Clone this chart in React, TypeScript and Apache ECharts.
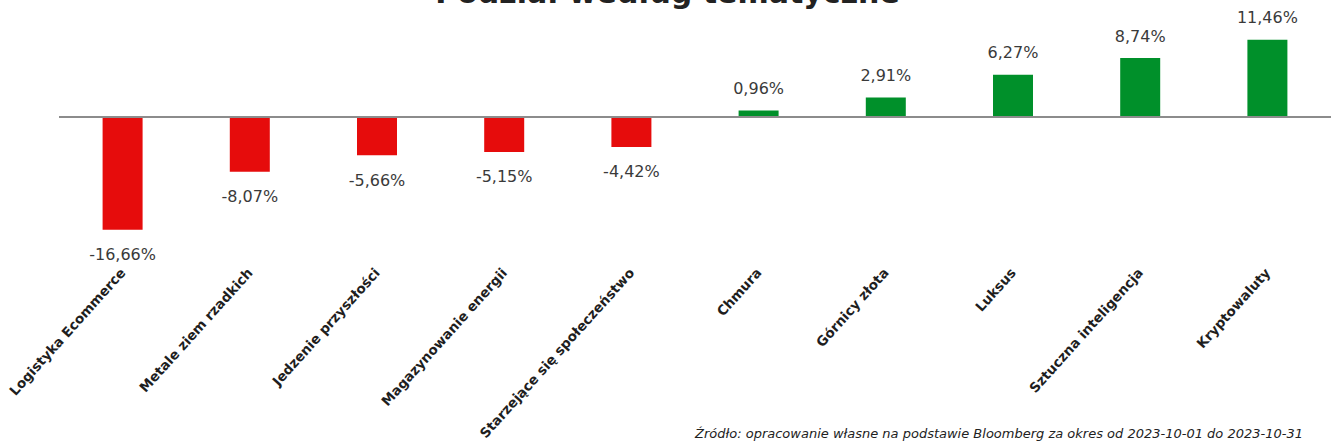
import React, { useEffect, useRef } from "react";
import * as echarts from "echarts";

const categories = [
  "Logistyka Ecommerce",
  "Metale ziem rzadkich",
  "Jedzenie przyszłości",
  "Magazynowanie energii",
  "Starzejące się społeczeństwo",
  "Chmura",
  "Górnicy złota",
  "Luksus",
  "Sztuczna inteligencja",
  "Kryptowaluty",
];
const values = [-16.66, -8.07, -5.66, -5.15, -4.42, 0.96, 2.91, 6.27, 8.74, 11.46];

const TITLE = "Podział według tematyczne";
const SOURCE = "Źródło: opracowanie własne na podstawie Bloomberg za okres od 2023-10-01 do 2023-10-31";

const RED = "#E60C0C";
const GREEN = "#00902A";
const FONT = "'DejaVu Sans', sans-serif";

export default function App() {
  const ref = useRef<HTMLDivElement>(null);
  useEffect(() => {
    if (!ref.current) return;
    const chart = echarts.init(ref.current, null, { renderer: "svg" });
    const fmt = (v: number) => v.toFixed(2).replace(".", ",") + "%";
    chart.setOption({
      animation: false,
      backgroundColor: "#ffffff",
      textStyle: { fontFamily: FONT },
      grid: { left: 59, right: 4, top: 36, bottom: 213, containLabel: false },
      xAxis: {
        type: "category",
        data: categories,
        axisLine: { show: false, onZero: false },
        axisTick: { show: false },
        axisLabel: {
          interval: 0,
          rotate: 48,
          margin: 38,
          fontFamily: FONT,
          fontWeight: "bold",
          fontSize: 13.5,
          color: "#1e1e1e",
        },
      },
      yAxis: {
        type: "value",
        min: -17,
        max: 12,
        show: false,
        splitLine: { show: false },
      },
      graphic: [
        {
          type: "text",
          left: "center",
          top: -23,
          style: {
            text: TITLE,
            fontFamily: FONT,
            fontWeight: "bold",
            fontSize: 30,
            fill: "#222222",
          },
        },
        {
          type: "text",
          right: 32,
          top: 427,
          style: {
            text: SOURCE,
            fontFamily: FONT,
            fontStyle: "italic",
            fontSize: 13,
            fill: "#222222",
          },
        },
      ],
      series: [
        {
          type: "bar",
          barWidth: 40,
          data: values.map((v) => ({
            value: v,
            itemStyle: { color: v < 0 ? RED : GREEN },
            label: {
              show: true,
              position: v < 0 ? "bottom" : "top",
              distance: v < 0 ? 17 : 14,
              formatter: () => fmt(v),
              fontFamily: FONT,
              fontSize: 16,
              color: "#3a3a3a",
            },
          })),
          markLine: {
            silent: true,
            symbol: ["none", "none"],
            label: { show: false },
            lineStyle: { color: "#8c8c8c", width: 2, type: "solid" },
            data: [{ yAxis: 0 }],
          },
        },
      ],
    });
    return () => chart.dispose();
  }, []);
  return (
    <div
      ref={ref}
      style={{ position: "fixed", left: 0, top: 0, width: 1335, height: 445 }}
    />
  );
}
